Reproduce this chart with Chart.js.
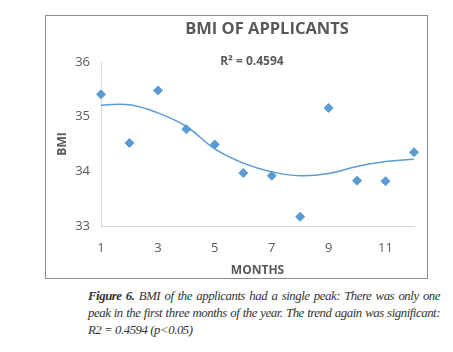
<!DOCTYPE html>
<html>
<head>
<meta charset="utf-8">
<script src="https://cdn.jsdelivr.net/npm/chart.js@4.4.0/dist/chart.umd.min.js"></script>
<style>
  html, body { margin: 0; padding: 0; background: #fff; }
  body { width: 453px; height: 352px; position: relative; overflow: hidden; }
  #frame {
    position: absolute; left: 45px; top: 15px;
    width: 381px; height: 262px;
    border: 1px solid #8c8c8c;
  }
  #frame canvas { display: block; }
  #caption {
    position: absolute; left: 88px; top: 288px; width: 352px;
    font-family: "Liberation Serif", "DejaVu Serif", serif;
    font-style: italic; font-size: 12.8px; line-height: 17px; color: #333;
    letter-spacing: -0.45px;
  }
  #caption .j { text-align: justify; text-align-last: justify; white-space: nowrap; }
  #caption b { font-weight: bold; }
</style>
</head>
<body>
<div id="frame"><canvas id="bmiChart" width="381" height="262"></canvas></div>
<div id="caption">
  <div class="j"><b>Figure 6.</b> BMI of the applicants had a single peak: There was only one</div>
  <div class="j">peak in the first three months of the year. The trend again was significant:</div>
  <div>R2 = 0.4594 (p&lt;0.05)</div>
</div>
<script>
// monthly mean BMI of applicants
const months = [1, 2, 3, 4, 5, 6, 7, 8, 9, 10, 11, 12];
const bmi = [35.41, 34.52, 35.48, 34.77, 34.49, 33.97, 33.92, 33.17, 35.16, 33.83, 33.82, 34.35];
// polynomial trendline
const trend = [35.21, 35.22, 35.07, 34.82, 34.41, 34.15, 33.99, 33.92, 33.96, 34.09, 34.18, 34.22];
const xTicks = [1, 3, 5, 7, 9, 11];
const yTicks = [33, 34, 35, 36];

const blue = '#5b9bd5';
const grey = '#595959';
const font = "'Open Sans', 'DejaVu Sans', sans-serif";

// chart title and R² note, placed like the original Excel chart
const labels = {
  id: 'labels',
  afterDraw(chart) {
    const ctx = chart.ctx;
    ctx.save();
    ctx.fillStyle = grey;
    ctx.textAlign = 'center';
    ctx.textBaseline = 'middle';
    ctx.font = 'bold 16.5px ' + font;
    ctx.fillText('BMI OF APPLICANTS', 221, 13);
    ctx.font = 'bold 12px ' + font;
    ctx.fillText('R² = 0.4594', 206, 46);
    ctx.restore();
  }
};

new Chart(document.getElementById('bmiChart'), {
  type: 'scatter',
  data: {
    datasets: [
      {
        label: 'BMI',
        data: months.map((m, i) => ({ x: m, y: bmi[i] })),
        backgroundColor: blue,
        borderColor: blue,
        pointStyle: 'rectRot',
        pointRadius: 4.5,
        clip: false,
        order: 1
      },
      {
        type: 'line',
        label: 'Trend',
        data: months.map((m, i) => ({ x: m, y: trend[i] })),
        borderColor: blue,
        borderWidth: 1.5,
        pointRadius: 0,
        tension: 0.4,
        fill: false,
        clip: false,
        order: 2
      }
    ]
  },
  options: {
    responsive: false,
    animation: false,
    layout: { padding: { top: 46, right: 13, left: 0, bottom: 0 } },
    plugins: {
      legend: { display: false },
      tooltip: { enabled: false },
      title: { display: false }
    },
    scales: {
      x: {
        type: 'linear',
        min: 1,
        max: 12,
        afterBuildTicks: s => { s.ticks = xTicks.map(v => ({ value: v })); },
        afterFit: s => { s.height = 52; },
        grid: { display: false, drawTicks: false },
        border: { display: true, color: '#d9d9d9' },
        ticks: { color: grey, font: { family: font, size: 13 }, padding: 14 },
        title: {
          display: true, text: 'MONTHS', color: grey,
          font: { family: font, size: 12, weight: 'bold' }, padding: { top: 1, bottom: 0 }
        }
      },
      y: {
        min: 33,
        max: 36,
        afterBuildTicks: s => { s.ticks = yTicks.map(v => ({ value: v })); },
        afterFit: s => { s.width = 55; },
        grid: { display: false, drawTicks: false },
        border: { display: true, color: '#d9d9d9' },
        ticks: { color: grey, font: { family: font, size: 13 }, padding: 11 },
        title: {
          display: true, text: 'BMI', color: grey,
          font: { family: font, size: 12, weight: 'bold' }, padding: { top: 9, bottom: 0 }
        }
      }
    }
  },
  plugins: [labels]
});
</script>
</body>
</html>
